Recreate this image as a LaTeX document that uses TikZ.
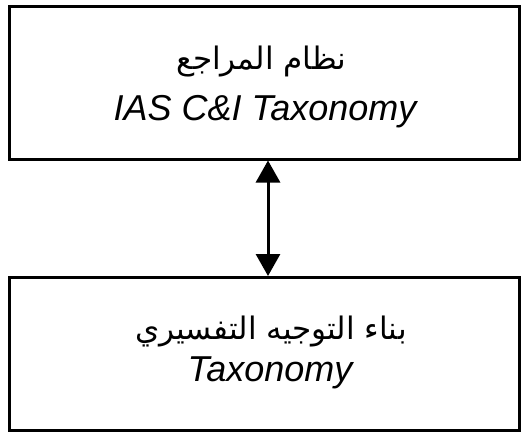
\documentclass[tikz,border=0pt]{standalone}
\usepackage{fontspec}
\setmainfont{Liberation Sans}
\newfontfamily\arabicfont[Script=Arabic]{DejaVu Sans}
\TeXXeTstate=1
\usetikzlibrary{arrows.meta}
\begin{document}
\begin{tikzpicture}[x=1pt,y=-1pt,
  panel/.style={draw=black,line width=3pt,minimum width=510pt,minimum height=153pt,inner sep=0pt},
  artext/.style={inner sep=0pt,anchor=base,font=\arabicfont\fontsize{31}{34}\selectfont},
  entext/.style={inner sep=0pt,anchor=base,font=\fontsize{36}{40}\selectfont\itshape},
  link/.style={line width=3pt,{Triangle[length=22pt,width=24pt]}-{Triangle[length=22pt,width=24pt]}}]
  \useasboundingbox (0,0) rectangle (522,432);
  % upper box
  \node[panel] (upper) at (264.5,82.5) {};
  \node[artext] (upperar) at (261.5,69) {\beginR نظام المراجع\endR};
  \node[entext] (upperen) at (265,120) {IAS C\&I Taxonomy};
  % lower box
  \node[panel] (lower) at (264.5,354) {};
  \node[artext] (lowerar) at (271,339) {\beginR بناء التوجيه التفسيري\endR};
  \node[entext] (loweren) at (270,381) {Taxonomy};
  % two-way link
  \draw[link] ([xshift=3.5pt]upper.south) -- ([xshift=3.5pt]lower.north);
\end{tikzpicture}
\end{document}
